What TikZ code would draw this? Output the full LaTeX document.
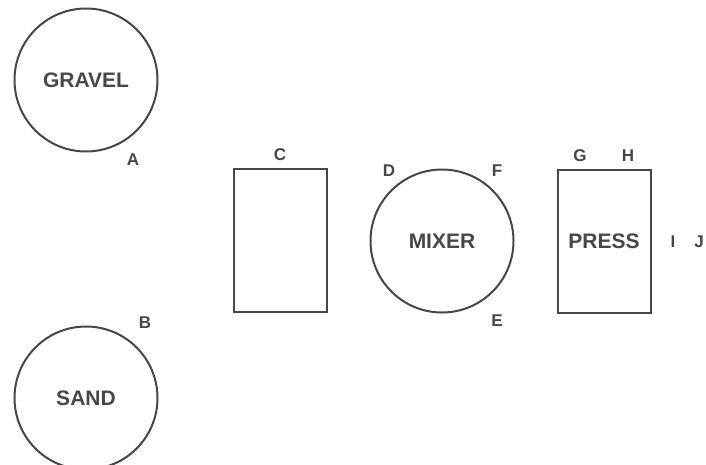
\documentclass[tikz,border=0pt]{standalone}
\usepackage{fontspec}
\setmainfont{Liberation Sans}
\begin{document}
\begin{tikzpicture}[x=1pt,y=-1pt,
  ink/.style={draw=black!72,line width=2pt},
  tank/.style={ink,circle,minimum size=143pt,inner sep=0pt,
    font=\fontsize{21}{24}\selectfont\bfseries,text=black!72},
  bin/.style={ink,rectangle,minimum width=93pt,minimum height=143pt,inner sep=0pt,
    font=\fontsize{21}{24}\selectfont\bfseries,text=black!72},
  tag/.style={inner sep=0pt,font=\fontsize{17}{20}\selectfont\bfseries,text=black!72}]
\useasboundingbox (0,0) rectangle (706,464);
% storage
\node[tank] (gravel) at (86,80) {GRAVEL};
\node[tank] (sand) at (86,398) {SAND};
% hopper, mixer, press
\node[bin] (hopper) at (280.5,240) {};
\node[tank] (mixer) at (442,241) {MIXER};
\node[bin] (press) at (604,241.5) {PRESS};
% point labels
\node[tag] (A) at (133,160) {A};
\node[tag] (B) at (145,323) {B};
\node[tag] (C) at (280,155) {C};
\node[tag] (D) at (389,171) {D};
\node[tag] (F) at (497,171) {F};
\node[tag] (E) at (497,321) {E};
\node[tag] (G) at (580,156) {G};
\node[tag] (H) at (628,156) {H};
\node[tag] (I) at (673,242) {I};
\node[tag] (J) at (699,242) {J};
\end{tikzpicture}
\end{document}
